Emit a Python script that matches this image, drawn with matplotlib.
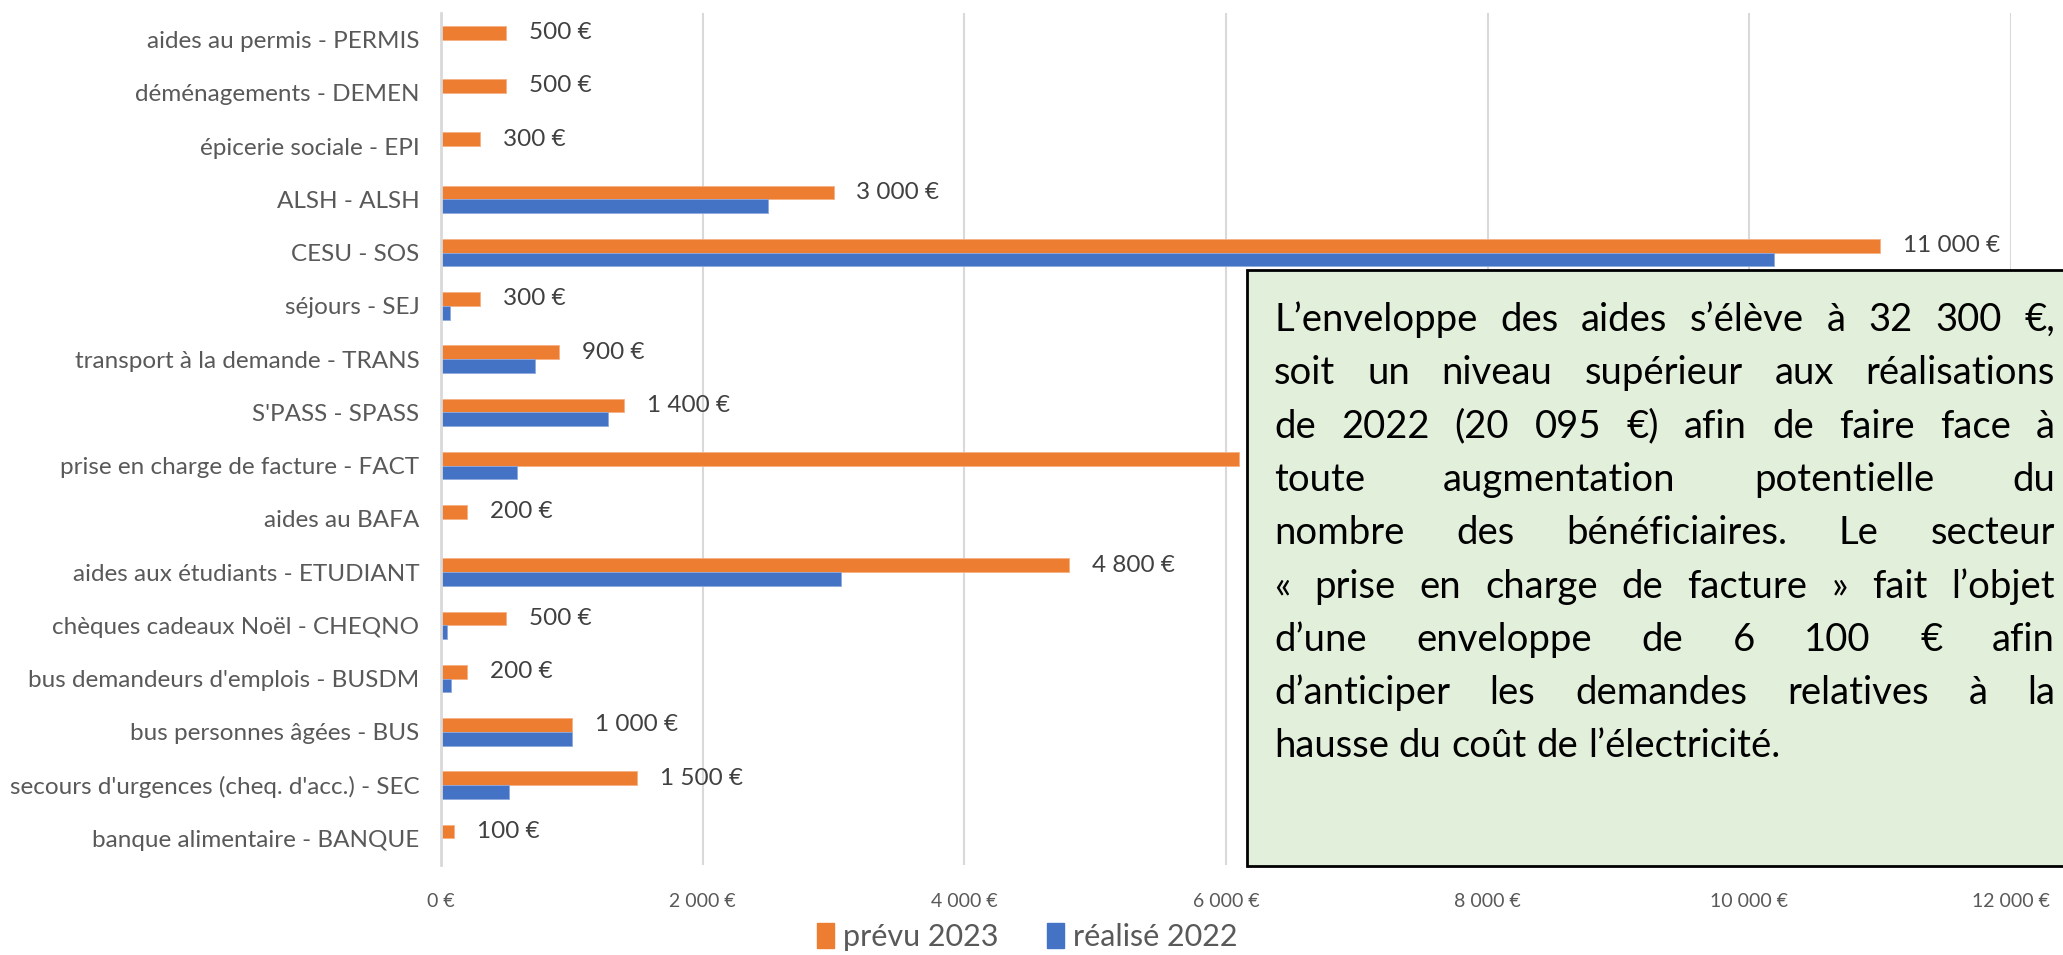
import matplotlib.pyplot as plt
from matplotlib.patches import Patch, Rectangle
import numpy as np

plt.rcParams['font.family'] = ['Lato', 'DejaVu Sans']

categories = [
    "aides au permis - PERMIS",
    "déménagements - DEMEN",
    "épicerie sociale - EPI",
    "ALSH - ALSH",
    "CESU - SOS",
    "séjours - SEJ",
    "transport à la demande - TRANS",
    "S'PASS - SPASS",
    "prise en charge de facture - FACT",
    "aides au BAFA",
    "aides aux étudiants - ETUDIANT",
    "chèques cadeaux Noël - CHEQNO",
    "bus demandeurs d'emplois - BUSDM",
    "bus personnes âgées - BUS",
    "secours d'urgences (cheq. d'acc.) - SEC",
    "banque alimentaire - BANQUE",
]
prevu_2023 = [500, 500, 300, 3000, 11000, 300, 900, 1400, 6100, 200, 4800, 500, 200, 1000, 1500, 100]
realise_2022 = [0, 0, 0, 2500, 10190, 68, 716, 1275, 580, 0, 3060, 48, 75, 1000, 518, 0]
x_ticks = [0, 2000, 4000, 6000, 8000, 10000, 12000]

note_lines = [
    "L’enveloppe des aides s’élève à 32 300 €,",
    "soit un niveau supérieur aux réalisations",
    "de 2022 (20 095 €) afin de faire face à",
    "toute augmentation potentielle du",
    "nombre des bénéficiaires. Le secteur",
    "« prise en charge de facture » fait l’objet",
    "d’une enveloppe de 6 100 € afin",
    "d’anticiper les demandes relatives à la",
    "hausse du coût de l’électricité.",
]

orange = "#ED7D31"
blue = "#4472C4"
grey_txt = "#595959"


def euro(v):
    return f"{v:,.0f}".replace(",", " ") + " €"


W, H = 2063, 955
fig = plt.figure(figsize=(W / 100, H / 100), dpi=100)
ax = fig.add_axes([441 / W, 1 - 865 / H, (2011 - 441) / W, (865 - 13) / H])

y = np.arange(len(categories))
bh = 0.26
ax.barh(y - bh / 2, prevu_2023, height=bh, color=orange, edgecolor="#F4B183", linewidth=0.6, zorder=3)
ax.barh(y + bh / 2, realise_2022, height=bh, color=blue, edgecolor="#8FAADC", linewidth=0.6, zorder=3)

for yi, v in zip(y, prevu_2023):
    ax.annotate(euro(v), (v, yi - bh / 2), xytext=(23, 0), textcoords="offset pixels",
                va="center", ha="left", fontsize=17.5, color="#404040")

ax.set_xlim(0, 12000)
ax.set_ylim(len(categories) - 0.5, -0.5)
ax.set_yticks(y)
ax.set_yticklabels(categories, fontsize=17.5, color=grey_txt)
ax.set_xticks(x_ticks)
ax.set_xticklabels([euro(v) for v in x_ticks], fontsize=14, color=grey_txt)
ax.tick_params(axis="both", length=0)
ax.tick_params(axis="y", pad=15.5)
ax.tick_params(axis="x", pad=20)
ax.grid(axis="x", color="#D9D9D9", linewidth=1.5, zorder=0)
for s in ["top", "right", "bottom"]:
    ax.spines[s].set_visible(False)
ax.spines["left"].set_color("#D9D9D9")
ax.spines["left"].set_linewidth(2)
ax.spines["left"].set_zorder(4)

fig.legend(handles=[Patch(color=orange, label="prévu 2023"), Patch(color=blue, label="réalisé 2022")],
           loc="center", bbox_to_anchor=(0.498, 1 - 937 / H), ncol=2, frameon=False,
           fontsize=22, handlelength=0.55, handleheight=0.9, handletextpad=0.3,
           columnspacing=1.6, labelcolor=grey_txt, borderaxespad=0, borderpad=0)

# comment box, justified text
fig.add_artist(Rectangle((1247 / W, 1 - 866 / H), (2080 - 1247) / W, (866 - 270) / H,
                         transform=fig.transFigure, facecolor="#E2EFDA", edgecolor="black",
                         linewidth=2, zorder=10))

renderer = fig.canvas.get_renderer()
fs = 27.5
left, right = 1274, 2055
a = fig.text(0, 0, "a", fontsize=fs)
ab = fig.text(0, 0, "a a", fontsize=fs)
space = ab.get_window_extent(renderer).width - 2 * a.get_window_extent(renderer).width
a.remove()
ab.remove()

for k, line in enumerate(note_lines):
    yb = 1 - (331 + k * 53.3) / H
    words = line.split(" ")
    texts = [fig.text(0, yb, w, fontsize=fs, va="baseline", ha="left", color="black", zorder=11)
             for w in words]
    widths = [t.get_window_extent(renderer).width for t in texts]
    if k < len(note_lines) - 1:
        gap = (right - left - sum(widths)) / (len(words) - 1)
    else:
        gap = space
    xpos = left
    for t, wd in zip(texts, widths):
        t.set_x(xpos / W)
        xpos += wd + gap

fig.savefig("out.png", dpi=100)
